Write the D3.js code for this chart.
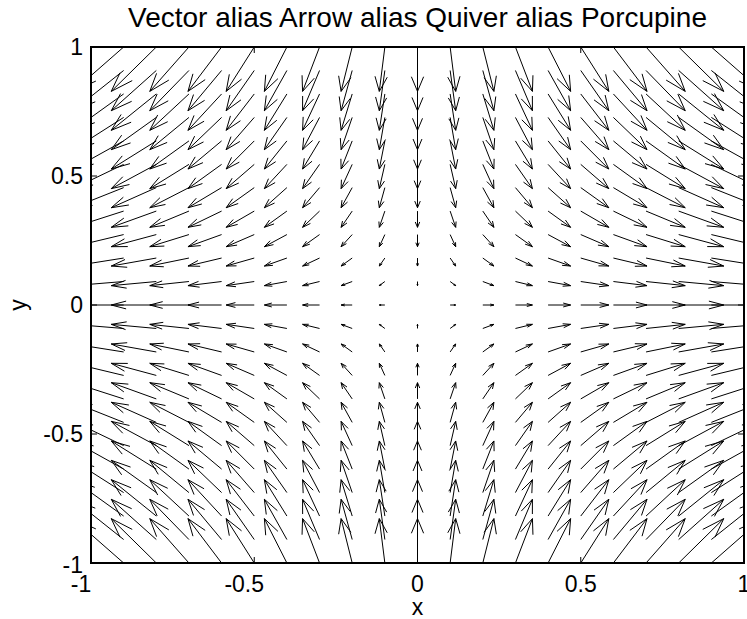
<!DOCTYPE html>
<html>
<head>
<meta charset="utf-8">
<script src="https://cdn.jsdelivr.net/npm/d3@7"></script>
<style>
  body { margin: 0; background: #fff; }
  svg { display: block; font-family: "Liberation Sans", Arial, Helvetica, sans-serif; }
  .arrow { fill: none; stroke: #000; stroke-width: 1; }
</style>
</head>
<body>
<div id="chart"></div>
<script>
// grid where each arrow starts (tail)
const xGrid = [-1, -0.9, -0.8, -0.7, -0.6, -0.5, -0.4, -0.3, -0.2, -0.1, 0,
               0.1, 0.2, 0.3, 0.4, 0.5, 0.6, 0.7, 0.8, 0.9, 1];
const yGrid = [-1, -0.909, -0.818, -0.727, -0.636, -0.545, -0.455, -0.364, -0.273, -0.182, -0.091, 0,
               0.091, 0.182, 0.273, 0.364, 0.455, 0.545, 0.636, 0.727, 0.818, 0.909, 1];
// horizontal component per column, vertical component per row (data units)
const uByColumn = [-0.172, -0.155, -0.138, -0.120, -0.103, -0.086, -0.069, -0.052, -0.034, -0.017, 0,
                   0.017, 0.034, 0.052, 0.069, 0.086, 0.103, 0.120, 0.138, 0.155, 0.172];
const vByRow = [0.172, 0.156, 0.141, 0.125, 0.109, 0.094, 0.078, 0.063, 0.047, 0.031, 0.016, 0,
                -0.016, -0.031, -0.047, -0.063, -0.078, -0.094, -0.109, -0.125, -0.141, -0.156, -0.172];
const xTicks = [-1, -0.5, 0, 0.5, 1];
const yTicks = [-1, -0.5, 0, 0.5, 1];
const title = "Vector alias Arrow alias Quiver alias Porcupine";

const width = 747, height = 619;
const m = { left: 91, right: 744, top: 47, bottom: 563 };
const fs = 23;

const x = d3.scaleLinear().domain([-1, 1]).range([m.left, m.right]);
const y = d3.scaleLinear().domain([-1, 1]).range([m.bottom, m.top]);

const svg = d3.select("#chart").append("svg")
  .attr("width", width)
  .attr("height", height);

svg.append("defs").append("clipPath").attr("id", "clip")
  .append("rect")
  .attr("x", m.left).attr("y", m.top)
  .attr("width", m.right - m.left).attr("height", m.bottom - m.top);

// build arrows, head like matlab quiver (alpha = beta = 0.33)
const alpha = 0.33, beta = 0.33, eps = 1e-9;
const arrows = [];
yGrid.forEach((yy, j) => {
  xGrid.forEach((xx, i) => {
    arrows.push({ x: xx, y: yy, u: uByColumn[i], v: vByRow[j] });
  });
});

function arrowPath(d) {
  const tx = d.x + d.u, ty = d.y + d.v;
  const h1x = tx - alpha * (d.u + beta * (d.v + eps));
  const h1y = ty - alpha * (d.v - beta * (d.u + eps));
  const h2x = tx - alpha * (d.u - beta * (d.v + eps));
  const h2y = ty - alpha * (d.v + beta * (d.u + eps));
  return `M${x(d.x)},${y(d.y)}L${x(tx)},${y(ty)}` +
         `M${x(h1x)},${y(h1y)}L${x(tx)},${y(ty)}L${x(h2x)},${y(h2y)}`;
}

svg.append("g")
  .attr("clip-path", "url(#clip)")
  .selectAll("path")
  .data(arrows)
  .enter()
  .append("path")
  .attr("class", "arrow")
  .attr("d", arrowPath);

// ticks (inside, on all four sides)
const tickLen = 6;
const tk = svg.append("g").attr("stroke", "#000").attr("stroke-width", 1);
xTicks.forEach(t => {
  tk.append("line").attr("x1", x(t)).attr("x2", x(t)).attr("y1", m.bottom).attr("y2", m.bottom - tickLen);
  tk.append("line").attr("x1", x(t)).attr("x2", x(t)).attr("y1", m.top).attr("y2", m.top + tickLen);
});
yTicks.forEach(t => {
  tk.append("line").attr("x1", m.left).attr("x2", m.left + tickLen).attr("y1", y(t)).attr("y2", y(t));
  tk.append("line").attr("x1", m.right).attr("x2", m.right - tickLen).attr("y1", y(t)).attr("y2", y(t));
});

// frame
svg.append("rect")
  .attr("x", m.left).attr("y", m.top)
  .attr("width", m.right - m.left).attr("height", m.bottom - m.top)
  .attr("fill", "none").attr("stroke", "#000").attr("stroke-width", 2);

// tick labels (negative ones sit a bit left in the original)
svg.append("g").selectAll("text")
  .data(xTicks).enter().append("text")
  .attr("x", d => x(d) + (d < 0 ? -10 : 0))
  .attr("y", m.bottom + 29)
  .attr("text-anchor", "middle")
  .attr("font-size", fs)
  .text(d => d);

svg.append("g").selectAll("text")
  .data(yTicks).enter().append("text")
  .attr("x", m.left - 8)
  .attr("y", d => y(d) + 8 + (d === -1 ? 2 : 0))
  .attr("text-anchor", "end")
  .attr("font-size", fs)
  .text(d => d);

// axis labels and title
svg.append("text")
  .attr("x", (m.left + m.right) / 2).attr("y", 615)
  .attr("text-anchor", "middle").attr("font-size", fs)
  .text("x");

svg.append("text")
  .attr("transform", `translate(26,${(m.top + m.bottom) / 2}) rotate(-90)`)
  .attr("text-anchor", "middle").attr("font-size", fs)
  .text("y");

svg.append("text")
  .attr("x", (m.left + m.right) / 2).attr("y", 27)
  .attr("text-anchor", "middle").attr("font-size", 28)
  .text(title);
</script>
</body>
</html>
